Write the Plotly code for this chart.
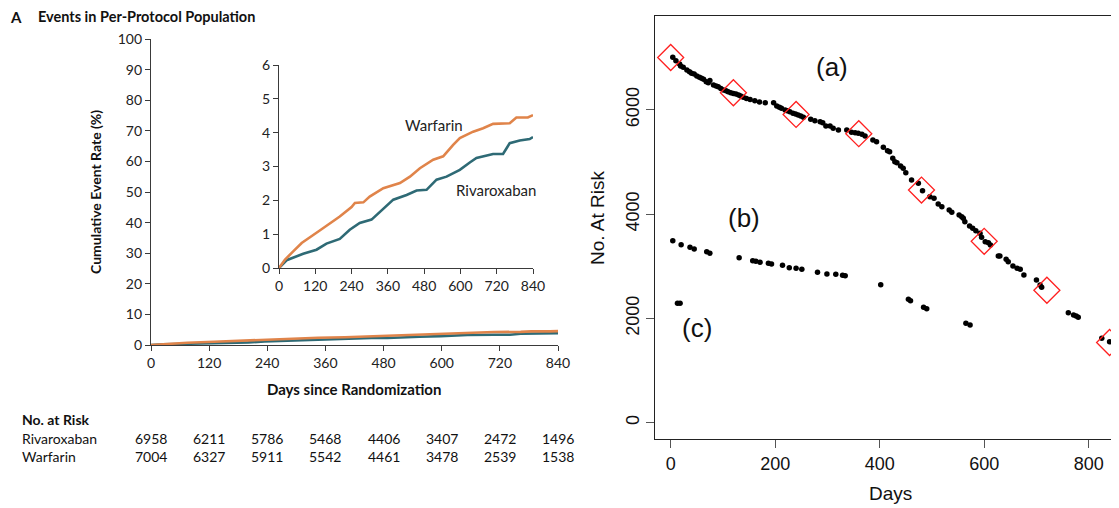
import plotly.graph_objects as go

# ---------------- Left panel data (Kaplan-Meier style cumulative event rate, %) ----------------
war_days = [0, 20, 47, 75, 130, 201, 240, 251, 279, 300, 345, 400, 433, 466, 510, 543, 576, 598, 642, 675, 708, 763, 785, 823, 840]
war_rate = [0, 0.25, 0.49, 0.74, 1.08, 1.52, 1.80, 1.92, 1.94, 2.11, 2.36, 2.51, 2.70, 2.95, 3.20, 3.30, 3.64, 3.84, 4.03, 4.13, 4.26, 4.28, 4.45, 4.45, 4.52]
riv_days = [0, 25, 80, 124, 157, 201, 234, 267, 306, 334, 378, 422, 455, 488, 521, 554, 598, 631, 653, 708, 741, 763, 796, 829, 840]
riv_rate = [0, 0.23, 0.42, 0.54, 0.72, 0.86, 1.13, 1.33, 1.43, 1.67, 2.02, 2.16, 2.29, 2.31, 2.61, 2.70, 2.90, 3.12, 3.25, 3.37, 3.37, 3.69, 3.77, 3.81, 3.87]

risk_days = [0, 120, 240, 360, 480, 600, 720, 840]
risk_riv = [6958, 6211, 5786, 5468, 4406, 3407, 2472, 1496]
risk_war = [7004, 6327, 5911, 5542, 4461, 3478, 2539, 1538]

main_yticks = list(range(0, 101, 10))
inset_yticks = [0, 1, 2, 3, 4, 5, 6]

a_days = [4, 10, 17, 19, 24, 31, 36, 40, 45, 50, 55, 59, 63, 68, 72, 75, 82, 87, 91, 96, 101, 106, 110, 115, 120,
          125, 130, 134, 139, 145, 152, 161, 170, 181, 197, 203, 208, 212, 219, 223, 228, 234, 239, 244, 249, 254,
          268, 276, 286, 291, 297, 305, 311, 321, 337, 346, 353, 359, 366, 372, 387, 394, 407, 415, 419, 425, 429,
          433, 440, 445, 450, 461, 474, 482, 496, 504, 512, 519, 533, 538, 552, 557, 560, 563, 572, 578, 584, 592,
          595, 602, 608, 612, 627, 630, 642, 646, 655, 663, 669, 676, 700, 707, 710, 761, 771, 776, 780, 825, 840]
a_vals = [7006, 6942, 6878, 6839, 6814, 6763, 6731, 6699, 6686, 6648, 6622, 6603, 6584, 6539, 6520, 6560, 6475, 6456,
          6443, 6411, 6379, 6366, 6347, 6328, 6315, 6302, 6283, 6264, 6239, 6219, 6200, 6175, 6149, 6136, 6136, 6072,
          6047, 6028, 5996, 5983, 5964, 5932, 5919, 5900, 5881, 5855, 5817, 5791, 5772, 5753, 5689, 5689, 5644, 5612,
          5612, 5568, 5562, 5549, 5530, 5498, 5421, 5389, 5280, 5216, 5197, 5069, 5005, 4986, 4922, 4878, 4795, 4654,
          4590, 4449, 4334, 4302, 4194, 4142, 4078, 4034, 3982, 3950, 3918, 3855, 3771, 3727, 3682, 3631, 3554, 3471,
          3452, 3407, 3196, 3196, 3132, 3087, 3004, 2960, 2940, 2832, 2736, 2640, 2595, 2110, 2065, 2046, 2020, 1617,
          1553]
b_days = [4, 20, 37, 45, 69, 75, 131, 157, 163, 171, 187, 193, 214, 227, 240, 251, 281, 299, 316, 329, 334, 402,
          455, 459, 484, 490, 565, 573]
b_vals = [3491, 3414, 3363, 3331, 3280, 3248, 3165, 3107, 3094, 3075, 3056, 3043, 3018, 2973, 2960, 2941, 2883, 2851,
          2845, 2826, 2820, 2647, 2366, 2340, 2212, 2187, 1905, 1873]
c_days = [13, 18]
c_vals = [2289, 2289]

right_xticks = [0, 200, 400, 600, 800]
right_yticks = [0, 2000, 4000, 6000]

ORANGE = "#E0844A"
TEAL = "#2E6A75"
AX = "#3a3a3a"
LF = "Lato"
RF = "Liberation Sans"

# the page body has an 8px margin, so the figure is offset by 8px inside the 1119x508 window
OFF = 8
W, H = 1119 - OFF, 508 - OFF

def px(x):
    return (x - OFF) / W

def py(y):
    return (H - (y - OFF)) / H

fig = go.Figure()

# main KM plot
fig.add_trace(go.Scatter(x=riv_days, y=riv_rate, mode="lines", line=dict(color=TEAL, width=2.6),
                         xaxis="x", yaxis="y", showlegend=False, cliponaxis=False))
fig.add_trace(go.Scatter(x=war_days, y=war_rate, mode="lines", line=dict(color=ORANGE, width=2.6),
                         xaxis="x", yaxis="y", showlegend=False, cliponaxis=False))
# inset
fig.add_trace(go.Scatter(x=riv_days, y=riv_rate, mode="lines", line=dict(color=TEAL, width=2.6),
                         xaxis="x2", yaxis="y2", showlegend=False, cliponaxis=False))
fig.add_trace(go.Scatter(x=war_days, y=war_rate, mode="lines", line=dict(color=ORANGE, width=2.6),
                         xaxis="x2", yaxis="y2", showlegend=False, cliponaxis=False))

# right panel
fig.add_trace(go.Scatter(x=a_days, y=a_vals, mode="markers", marker=dict(color="black", size=5.5),
                         xaxis="x3", yaxis="y3", showlegend=False))
fig.add_trace(go.Scatter(x=b_days, y=b_vals, mode="markers", marker=dict(color="black", size=5.5),
                         xaxis="x3", yaxis="y3", showlegend=False))
fig.add_trace(go.Scatter(x=c_days, y=c_vals, mode="markers", marker=dict(color="black", size=5.5),
                         xaxis="x3", yaxis="y3", showlegend=False))
fig.add_trace(go.Scatter(x=risk_days, y=risk_war, mode="markers",
                         marker=dict(symbol="diamond-open", color="#FF2020", size=20, line=dict(width=1.3, color="#FF2020")),
                         xaxis="x3", yaxis="y3", showlegend=False, cliponaxis=False))

left_axis = dict(showline=True, linecolor=AX, linewidth=1.2, ticks="outside", ticklen=5, tickwidth=1.2,
                 tickcolor=AX, showgrid=False, zeroline=False, automargin=False,
                 tickfont=dict(family=LF, size=14, color="#222"))

fig.update_layout(
    width=W, height=H, margin=dict(l=0, r=0, t=0, b=0, autoexpand=False),
    paper_bgcolor="white", plot_bgcolor="white",
    xaxis=dict(domain=[px(151), px(558)], range=[0, 840], tickvals=risk_days, anchor="y", **left_axis),
    yaxis=dict(domain=[py(345), py(39)], range=[0, 100], tickvals=main_yticks, anchor="x", **left_axis),
    xaxis2=dict(domain=[px(279), px(533)], range=[0, 840], tickvals=risk_days, anchor="y2", **left_axis),
    yaxis2=dict(domain=[py(268), py(65)], range=[0, 6], tickvals=inset_yticks, anchor="x2", **left_axis),
    xaxis3=dict(domain=[px(655), 1.0], range=[-30, 858], tickvals=right_xticks, anchor="y3",
                showline=True, mirror=True, linecolor="#222", linewidth=1.2, ticks="outside", ticklen=8,
                tickcolor="#555", showgrid=False, zeroline=False, automargin=False,
                tickfont=dict(family=RF, size=18, color="#111")),
    yaxis3=dict(domain=[py(439), py(16)], range=[-313, 7799], tickvals=right_yticks, anchor="x3",
                showline=True, linecolor="#222", linewidth=1.2, ticks="outside", ticklen=8,
                tickcolor="#555", showgrid=False, zeroline=False, tickangle=-90, automargin=False,
                tickfont=dict(family=RF, size=18, color="#111")),
)

ann = []

def note(x, y, text, size, family=LF, xanchor="center", angle=0):
    ann.append(dict(x=px(x), y=py(y), xref="paper", yref="paper", text=text, showarrow=False,
                    xanchor=xanchor, yanchor="middle", textangle=angle,
                    font=dict(family=family, size=size, color="#111")))

# title
note(8, 16.5, "<b>A</b>", 15, xanchor="left")
note(36, 16.5, "<b>Events in Per-Protocol Population</b>", 14.5, xanchor="left")
# axis titles
note(95, 192, "<b>Cumulative Event Rate (%)</b>", 14, angle=-90)
note(354, 389, "<b>Days since Randomization</b>", 15)
# at-risk table
note(20, 419, "<b>No. at Risk</b>", 14, xanchor="left")
note(20, 438, "Rivaroxaban", 14, xanchor="left")
note(20, 456, "Warfarin", 14, xanchor="left")
for d, r, w in zip(risk_days, risk_riv, risk_war):
    ann.append(dict(x=d, y=py(438), xref="x", yref="paper", text=str(r), showarrow=False,
                    xanchor="center", yanchor="middle", font=dict(family=LF, size=14, color="#111")))
    ann.append(dict(x=d, y=py(456), xref="x", yref="paper", text=str(w), showarrow=False,
                    xanchor="center", yanchor="middle", font=dict(family=LF, size=14, color="#111")))
# inset labels
ann.append(dict(x=513, y=4.23, xref="x2", yref="y2", text="Warfarin", showarrow=False,
                xanchor="center", yanchor="middle", font=dict(family=LF, size=15, color="#222")))
ann.append(dict(x=718, y=2.31, xref="x2", yref="y2", text="Rivaroxaban", showarrow=False,
                xanchor="center", yanchor="middle", font=dict(family=LF, size=15, color="#222")))
# right panel labels
for t, xx, yy in [("(a)", 308, 6826), ("(b)", 140, 3924), ("(c)", 50, 1810)]:
    ann.append(dict(x=xx, y=yy, xref="x3", yref="y3", text=t, showarrow=False,
                    xanchor="center", yanchor="middle", font=dict(family=RF, size=26, color="#111")))
note(597, 218, "No. At Risk", 19, family=RF, angle=-90)
note(890, 493, "Days", 19, family=RF)
fig.update_layout(annotations=ann)

fig.write_html("out.html")
